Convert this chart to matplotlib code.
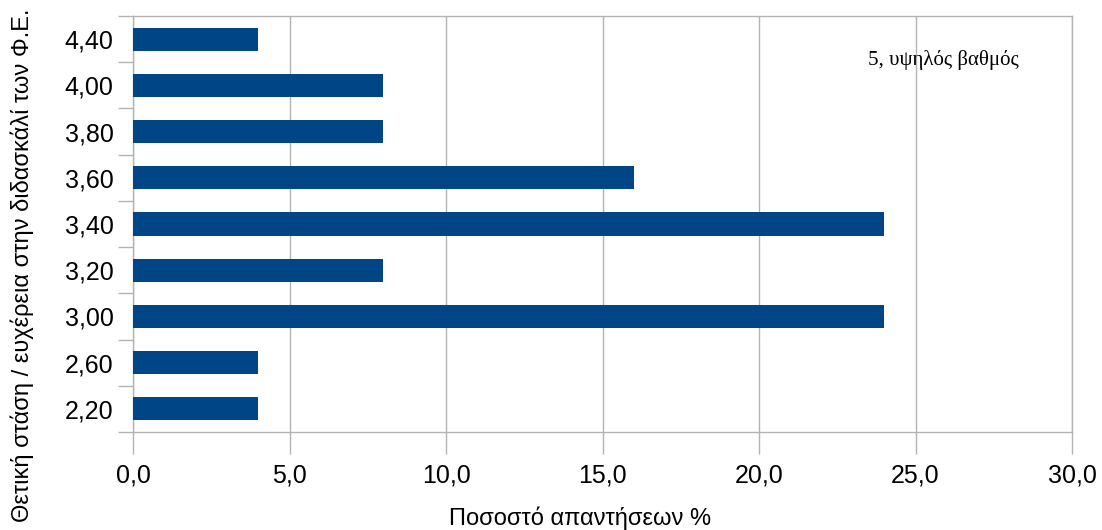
import numpy as np
import matplotlib.pyplot as plt

plt.rcParams['font.family'] = ['Liberation Sans', 'DejaVu Sans']

# data
categories = ['2,20', '2,60', '3,00', '3,20', '3,40', '3,60', '3,80', '4,00', '4,40']
values = [4, 4, 24, 8, 24, 16, 8, 8, 4]
xticks = [0, 5, 10, 15, 20, 25, 30]
xticklabels = ['0,0', '5,0', '10,0', '15,0', '20,0', '25,0', '30,0']

grey = '#b3b3b3'

fig = plt.figure(figsize=(11.02, 5.30), dpi=100)
ax = fig.add_axes([133 / 1102, 98 / 530, 939 / 1102, 416 / 530])

y = np.arange(len(categories))
ax.barh(y, values, height=0.5, color='#004586', zorder=3)

ax.set_xlim(0, 30)
ax.set_ylim(-0.5, len(categories) - 0.5)
ax.set_xticks(xticks)
ax.set_xticklabels(xticklabels, fontsize=18)
ax.set_yticks(y)
ax.set_yticklabels(categories, fontsize=18)
ax.tick_params(axis='y', length=0, pad=14)
ax.set_yticks(np.arange(len(categories) + 1) - 0.5, minor=True)
ax.tick_params(axis='y', which='minor', length=11, color=grey, width=1)
ax.tick_params(axis='x', length=16, color=grey, width=1, pad=7)

ax.grid(axis='x', color=grey, lw=1, zorder=0)
for s in ax.spines.values():
    s.set_color(grey)
    s.set_linewidth(1)

fig.text(580 / 1102, 12 / 530, 'Ποσοστό απαντήσεων %', fontsize=17,
         ha='center', va='center')
fig.text(22 / 1102, 0.5, 'Θετική στάση / ευχέρεια στην διδασκάλί των Φ.Ε.',
         rotation=90, fontsize=17, ha='center', va='center')

ax.text(943 / 1102, 1 - 60 / 530, '5, υψηλός βαθμός', transform=fig.transFigure,
        fontsize=15, family=['Liberation Serif', 'DejaVu Serif'],
        ha='center', va='center')

fig.savefig('out.png', dpi=100)
